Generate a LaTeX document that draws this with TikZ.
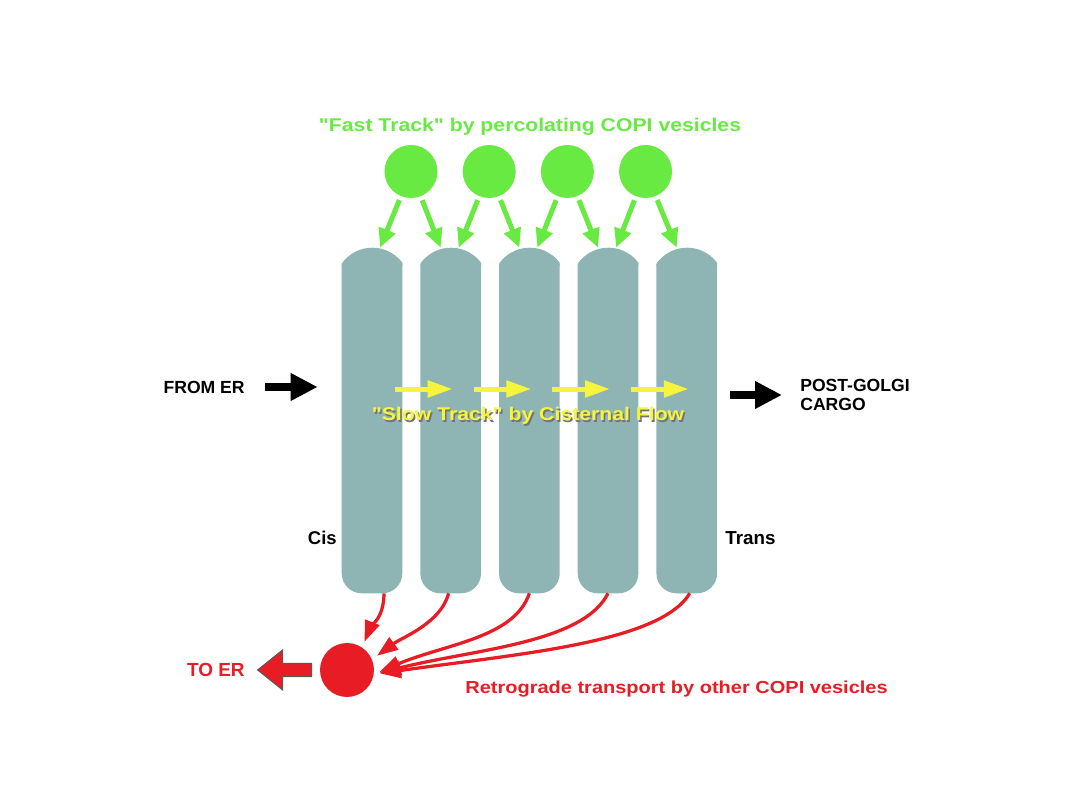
\documentclass[tikz,border=0pt]{standalone}
\usepackage{fontspec}
\setmainfont{Liberation Sans}
\newfontfamily\widesans{Liberation Sans}[FakeStretch=1.15]
\usetikzlibrary{arrows.meta, positioning}

\definecolor{cistgray}{RGB}{143,180,180}
\definecolor{fastgreen}{RGB}{104,234,66}
\definecolor{retred}{RGB}{232,28,36}
\definecolor{slowyellow}{RGB}{246,244,60}

\begin{document}
\begin{tikzpicture}[
    x=0.02cm, y=-0.02cm,
    node distance=0.36cm and 0.36cm,
    cist/.style={
      rectangle,
      inner sep=0pt,
      minimum width=1.2cm,
      minimum height=6.9cm
    },
    vesicle/.style={
      circle,
      inner sep=0pt,
      minimum size=1.06cm
    },
    txt/.style={
      inner sep=0pt,
      font=\bfseries\fontsize{10}{10.8}\selectfont
    },
    widetxt/.style={
      inner sep=0pt,
      font=\widesans\bfseries\fontsize{#1}{12}\selectfont
    },
    bigline/.style={-{Triangle[length=0.54cm, width=0.52cm]}, line width=0.17cm, black},
    fastline/.style={-{Triangle[length=0.38cm, width=0.34cm]}, line width=0.1cm, fastgreen, shorten <=0.08cm},
    slowline/.style={-{Triangle[length=0.5cm, width=0.32cm]}, line width=0.1cm, slowyellow},
    retline/.style={-{Triangle[length=0.42cm, width=0.3cm]}, line width=0.065cm, retred, shorten >=0.12cm},
    blockarrow/.style={fill=retred, draw=black!65, line width=0.6pt, line join=miter}
  ]
    \useasboundingbox (0,0) rectangle (1080,810);

    % cisternae
    \node[cist] (c1) at (372,420.5) {};
    \node[cist, right=of c1] (c2) {};
    \node[cist, right=of c2] (c3) {};
    \node[cist, right=of c3] (c4) {};
    \node[cist, right=of c4] (c5) {};
    \foreach \i in {1,...,5} {
      \fill[cistgray, rounded corners=0.4cm] ([yshift=-0.32cm]c\i.north west) -- (c\i.south west) -- (c\i.south east) -- ([yshift=-0.32cm]c\i.north east);
      \fill[cistgray] ([yshift=-0.3cm]c\i.north east) arc[start angle=36.87, end angle=143.13, radius=0.75cm] -- ([yshift=-0.36cm]c\i.north west) -- ([yshift=-0.36cm]c\i.north east) -- cycle;
    }

    % fast track
    \node[widetxt=10.5, text=fastgreen] (fast) at (530,127) {\symbol{34}Fast Track\symbol{34} by percolating COPI vesicles};
    \node[vesicle, fill=fastgreen] (g1) at (411,171.5) {};
    \node[vesicle, fill=fastgreen, right=0.49cm of g1] (g2) {};
    \node[vesicle, fill=fastgreen, right=0.49cm of g2] (g3) {};
    \node[vesicle, fill=fastgreen, right=0.49cm of g3] (g4) {};

    \draw[fastline] (g1) -- ([xshift=0.16cm]c1.north);
    \draw[fastline] (g1) -- ([xshift=-0.2cm]c2.north);
    \draw[fastline] (g2) -- ([xshift=0.16cm]c2.north);
    \draw[fastline] (g2) -- ([xshift=-0.2cm]c3.north);
    \draw[fastline] (g3) -- ([xshift=0.16cm]c3.north);
    \draw[fastline] (g3) -- ([xshift=-0.2cm]c4.north);
    \draw[fastline] (g4) -- ([xshift=0.16cm]c4.north);
    \draw[fastline] (g4) -- ([xshift=-0.2cm]c5.north);

    % slow track
    \draw[slowline] ([shift={(0.46cm,0.63cm)}]c1.center) -- ([shift={(0.04cm,0.63cm)}]c2.center);
    \draw[slowline] ([shift={(0.46cm,0.63cm)}]c2.center) -- ([shift={(0.04cm,0.63cm)}]c3.center);
    \draw[slowline] ([shift={(0.46cm,0.63cm)}]c3.center) -- ([shift={(0.04cm,0.63cm)}]c4.center);
    \draw[slowline] ([shift={(0.46cm,0.63cm)}]c4.center) -- ([shift={(0.04cm,0.63cm)}]c5.center);
    \node[widetxt=10.5, text=black!55] (slowshade) at (529.5,417.5) {\symbol{34}Slow Track\symbol{34} by Cisternal Flow};
    \node[widetxt=10.5, text=slowyellow] (slow) at (528,416) {\symbol{34}Slow Track\symbol{34} by Cisternal Flow};

    % in and out
    \node[txt, anchor=east] (fromer) at (245,387) {FROM ER};
    \node[txt, anchor=west, align=left] (pg) at (800,395) {POST-GOLGI\\CARGO};
    \draw[bigline, shorten <=0.4cm, shorten >=0.48cm] (fromer) -- (fromer -| c1.west);
    \draw[bigline, shorten <=0.26cm, shorten >=0.36cm] (c5.east |- pg) -- (pg);

    \node[txt, anchor=east, font=\bfseries\fontsize{10.5}{12}\selectfont] (cis) at (337,538) {Cis};
    \node[txt, anchor=west, font=\bfseries\fontsize{10.7}{12}\selectfont] (trans) at (725,538) {Trans};

    % retrograde
    \node[vesicle, fill=retred, minimum size=1.08cm] (ret) at (347,670) {};
    \node[txt, text=retred, anchor=east, font=\bfseries\fontsize{10.8}{12}\selectfont] (toer) at (245,670) {TO ER};
    \node[widetxt=9.9, text=retred, anchor=west] (retro) at (465,689) {Retrograde transport by other COPI vesicles};

    \draw[blockarrow] ([shift={(-0.16cm,0.13cm)}]ret.west) -- ++(-29,0) -- ++(0,-13.5) -- ++(-25,20) -- ++(25,20) -- ++(0,-13.5) -- ++(29,0) -- cycle;

    \draw[retline] ([xshift=0.24cm]c1.south) .. controls +(0,25) and +(8,-20) .. (ret.56);
    \draw[retline] ([xshift=-0.04cm]c2.south) .. controls +(-8,30) and +(30,-22) .. (ret.23);
    \draw[retline] (c3.south) .. controls +(-15,45) and +(70,-30) .. (ret.-9);
    \draw[retline] (c4.south) .. controls +(-25,50) and +(100,-25) .. (ret.-9);
    \draw[retline] ([xshift=0.06cm]c5.south) .. controls +(-30,50) and +(140,-20) .. (ret.-9);
  \end{tikzpicture}
\end{document}
